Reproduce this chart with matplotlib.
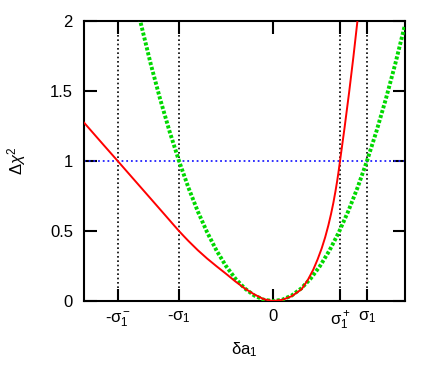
import matplotlib
matplotlib.use('Agg')
import matplotlib.pyplot as plt

plt.rcParams['font.family'] = ['Liberation Sans', 'DejaVu Sans']
plt.rcParams['mathtext.fontset'] = 'custom'
plt.rcParams['mathtext.rm'] = 'Liberation Sans'
plt.rcParams['mathtext.it'] = 'Liberation Sans:italic'
plt.rcParams['mathtext.sf'] = 'Liberation Sans'

# red: asymmetric chi^2 profile
red_x = [-2.01, -1.8, -1.65, -1.5, -1.3, -1.15, -1.05, -1.0, -0.95, -0.9, -0.8, -0.7,
         -0.6, -0.5, -0.4, -0.3, -0.2, -0.1, 0.0, 0.1, 0.2, 0.305, 0.37, 0.429,
         0.475, 0.518, 0.555, 0.589, 0.617, 0.642, 0.665, 0.684, 0.70, 0.713,
         0.76, 0.81, 0.855, 0.897]
red_y = [1.273, 1.112, 0.998, 0.883, 0.73, 0.615, 0.538, 0.50, 0.464, 0.429, 0.363, 0.303,
         0.248, 0.195, 0.14, 0.09, 0.048, 0.014, 0.0, 0.009, 0.035, 0.085, 0.15, 0.225,
         0.298, 0.376, 0.455, 0.54, 0.62, 0.70, 0.785, 0.862, 0.935, 1.0,
         1.23, 1.49, 1.74, 1.99]

# green: symmetric parabola
green_x = [-1.42, -1.3, -1.2, -1.1, -1.0, -0.9, -0.8, -0.7, -0.6, -0.5, -0.4, -0.3,
           -0.2, -0.1, 0.0, 0.1, 0.2, 0.3, 0.4, 0.5, 0.6, 0.7, 0.8, 0.9, 1.0,
           1.1, 1.2, 1.3, 1.4]
green_y = [2.02, 1.69, 1.44, 1.21, 1.00, 0.81, 0.64, 0.49, 0.36, 0.25, 0.16, 0.09,
           0.04, 0.01, 0.0, 0.01, 0.04, 0.09, 0.16, 0.25, 0.36, 0.49, 0.64, 0.81, 1.00,
           1.21, 1.44, 1.69, 1.96]

# sigma positions
sigma_pos = [-1.65, -1.0, 0.0, 0.713, 1.0]
sigma_labels = ['-σ$_1^-$', '-σ$_1$', '0', 'σ$_1^+$', 'σ$_1$']
sigma_lines = [-1.65, -1.0, 0.713, 1.0]

fig = plt.figure(figsize=(4.36, 3.74), dpi=100)
ax = fig.add_axes([0.1927, 0.195, 0.7353, 0.7497])

for xv in sigma_lines:
    ax.plot([xv, xv], [0, 2], color='black', lw=1.2, linestyle=(0, (1, 1.6)), zorder=2)
ax.plot([-2.01, 1.40], [1, 1], color='#2020ff', lw=1.3, linestyle=(0, (1, 1.6)), zorder=2)

ax.plot(green_x, green_y, color='#00d800', lw=2.8, linestyle=(0, (0.8, 0.5)), zorder=3)
ax.plot(red_x, red_y, color='#ff0000', lw=1.4, zorder=4)

ax.set_xlim(-2.01, 1.40)
ax.set_ylim(0, 2)
ax.set_xticks(sigma_pos, sigma_labels)
ax.set_yticks([0, 0.5, 1, 1.5, 2], ['0', '0.5', '1', '1.5', '2'])
ax.tick_params(direction='in', length=9, width=1.5, top=True, right=True,
               labelsize=12, pad=8)
ax.tick_params(axis='x', pad=6)
for s in ax.spines.values():
    s.set_linewidth(1.5)

ax.set_xlabel('δa$_1$', fontsize=12, labelpad=6)
ax.set_ylabel(r'$\Delta\chi^2$', fontsize=12, labelpad=16)

fig.savefig('out.png', dpi=100)
